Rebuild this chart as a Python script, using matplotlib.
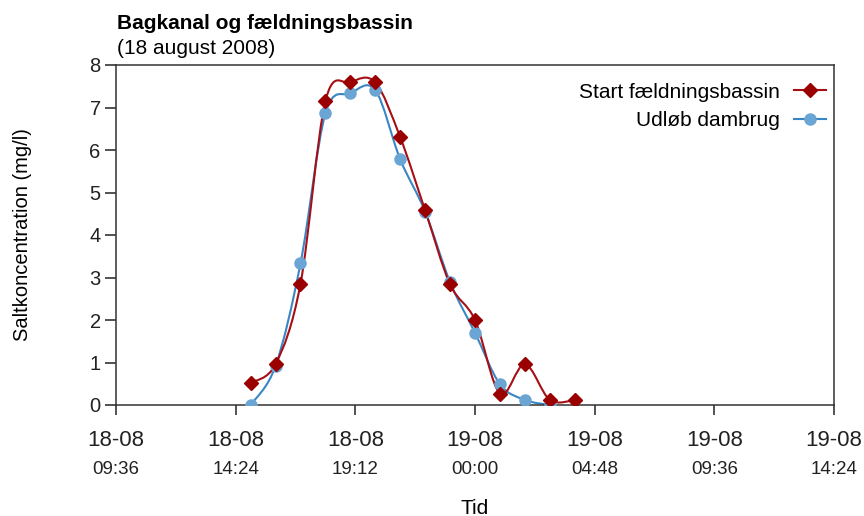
import datetime as dt
import matplotlib
matplotlib.use("Agg")
import matplotlib.pyplot as plt
import matplotlib.dates as mdates
from matplotlib.path import Path
from matplotlib.patches import PathPatch
from matplotlib.lines import Line2D

plt.rcParams['font.family'] = ['Liberation Sans', 'DejaVu Sans']

# -------------------------------------------
#  Data
# -------------------------------------------
hours_red = ['2008-08-18 15:00', '2008-08-18 16:00', '2008-08-18 17:00', '2008-08-18 18:00',
             '2008-08-18 19:00', '2008-08-18 20:00', '2008-08-18 21:00', '2008-08-18 22:00',
             '2008-08-18 23:00', '2008-08-19 00:00', '2008-08-19 01:00', '2008-08-19 02:00',
             '2008-08-19 03:00', '2008-08-19 04:00']
start_bassin = [0.52, 0.96, 2.85, 7.15, 7.59, 7.59, 6.30, 4.58, 2.84, 2.00, 0.27, 0.96, 0.12, 0.12]

hours_blue = ['2008-08-18 15:00', '2008-08-18 16:00', '2008-08-18 17:00', '2008-08-18 18:00',
              '2008-08-18 19:00', '2008-08-18 20:00', '2008-08-18 21:00', '2008-08-18 22:00',
              '2008-08-18 23:00', '2008-08-19 00:00', '2008-08-19 01:00', '2008-08-19 02:00',
              '2008-08-19 03:00']
udloeb = [0.00, 0.92, 3.33, 6.86, 7.33, 7.41, 5.78, 4.55, 2.89, 1.70, 0.49, 0.12, 0.00]

x_start = '2008-08-18 09:36'
x_end = '2008-08-19 14:24'
tick_step_min = 288      # 4.8 hours between ticks

red_line, red_mark = '#a50f15', '#9b0000'
blue_line, blue_mark = '#3a86c4', '#6aa5d4'


def to_num(lst):
    return [mdates.date2num(dt.datetime.strptime(s, '%Y-%m-%d %H:%M')) for s in lst]


def smooth_path(xs, ys):
    # Excel-style smoothed line: cubic bezier through the points
    n = len(xs)
    verts = [(xs[0], ys[0])]
    codes = [Path.MOVETO]
    for i in range(n - 1):
        x0, y0 = (xs[i - 1], ys[i - 1]) if i > 0 else (xs[i], ys[i])
        x3, y3 = (xs[i + 2], ys[i + 2]) if i + 2 < n else (xs[i + 1], ys[i + 1])
        c1 = (xs[i] + (xs[i + 1] - x0) / 6, ys[i] + (ys[i + 1] - y0) / 6)
        c2 = (xs[i + 1] - (x3 - xs[i]) / 6, ys[i + 1] - (y3 - ys[i]) / 6)
        verts += [c1, c2, (xs[i + 1], ys[i + 1])]
        codes += [Path.CURVE4] * 3
    return Path(verts, codes)


xr = to_num(hours_red)
xb = to_num(hours_blue)

fig = plt.figure(figsize=(8.64, 5.16), dpi=100)
ax = fig.add_axes([116 / 864, 1 - 405 / 516, (834 - 116) / 864, (405 - 65) / 516])

ax.add_patch(PathPatch(smooth_path(xb, udloeb), fill=False, edgecolor=blue_line, lw=1.5, zorder=2))
ax.add_patch(PathPatch(smooth_path(xr, start_bassin), fill=False, edgecolor=red_line, lw=1.5, zorder=3))
ax.plot(xb, udloeb, ls='none', marker='o', ms=8, mfc=blue_mark, mec=blue_mark, zorder=4)
ax.plot(xr, start_bassin, ls='none', marker='D', ms=7, mfc=red_mark, mec=red_mark, zorder=5)

# axes ranges and ticks
x0 = to_num([x_start])[0]
x1 = to_num([x_end])[0]
ax.set_xlim(x0, x1)
ax.set_ylim(0, 8)
ax.set_yticks(range(0, 9))

tick_pos = []
t = dt.datetime.strptime(x_start, '%Y-%m-%d %H:%M')
while mdates.date2num(t) <= x1 + 1e-6:
    tick_pos.append(t)
    t += dt.timedelta(minutes=tick_step_min)
ax.set_xticks(mdates.date2num(tick_pos))
ax.set_xticklabels([p.strftime('%d-%m') for p in tick_pos])
ax.set_xticks(mdates.date2num(tick_pos), minor=True)
ax.set_xticklabels([p.strftime('%H:%M') for p in tick_pos], minor=True)
ax.xaxis.remove_overlapping_locs = False

ax.tick_params(axis='x', which='major', direction='out', length=7, width=1.1, pad=11,
               labelsize=16, colors='#222222')
ax.tick_params(axis='x', which='minor', length=0, pad=40, labelsize=13.5, colors='#222222')
ax.tick_params(axis='y', direction='out', length=8, width=1.1, pad=3, labelsize=14.5, colors='#222222')
for s in ax.spines.values():
    s.set_linewidth(1.1)
    s.set_color('#333333')

ax.set_ylabel('Saltkoncentration (mg/l)', fontsize=14.5)
ax.set_xlabel('Tid', fontsize=15)
ax.yaxis.set_label_coords(-0.117, 0.5)
ax.xaxis.set_label_coords(0.5, -0.275)

fig.text(117 / 864, 1 - 29 / 516, 'Bagkanal og fældningsbassin', fontsize=15,
         fontweight='bold', va='baseline')
fig.text(117 / 864, 1 - 54 / 516, '(18 august 2008)', fontsize=15, va='baseline')

handles = [Line2D([], [], color=red_line, lw=1.5, marker='D', ms=7, mfc=red_mark, mec=red_mark),
           Line2D([], [], color=blue_line, lw=1.5, marker='o', ms=8, mfc=blue_mark, mec=blue_mark)]
ax.legend(handles, ['Start fældningsbassin', 'Udløb dambrug'], loc='upper right',
          bbox_to_anchor=(1.0056, 0.985), frameon=False, markerfirst=False, fontsize=15,
          handlelength=1.5, handletextpad=0.7, borderaxespad=0.2, labelspacing=0.45)

fig.savefig('out.png', dpi=100)
